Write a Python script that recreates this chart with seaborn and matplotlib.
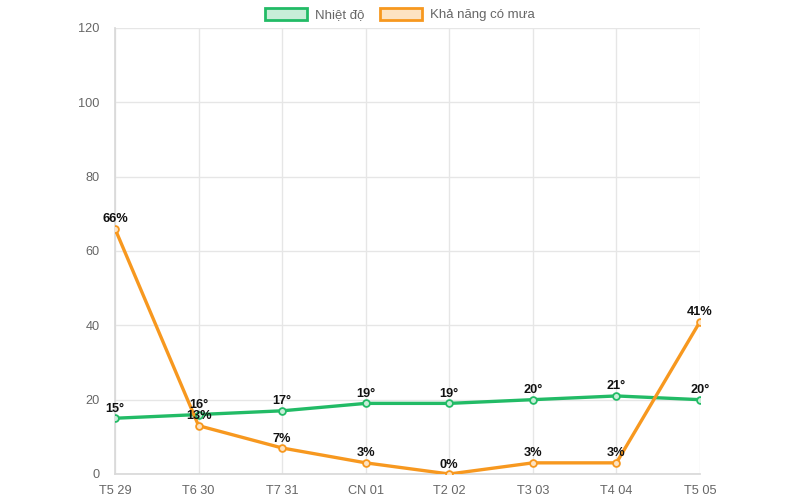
import matplotlib
matplotlib.use("Agg")
import matplotlib.pyplot as plt
import seaborn as sns
import pandas as pd
from matplotlib.patches import Patch

days = ["T5 29", "T6 30", "T7 31", "CN 01", "T2 02", "T3 03", "T4 04", "T5 05"]
temperature = [15, 16, 17, 19, 19, 20, 21, 20]
rain_chance = [66, 13, 7, 3, 0, 3, 3, 41]
series_names = ["Nhiệt độ", "Khả năng có mưa"]
y_ticks = [0, 20, 40, 60, 80, 100, 120]

green = "#22bb66"
orange = "#f7981f"

sns.set_theme(style="white")
plt.rcParams["font.family"] = ["Liberation Sans", "DejaVu Sans"]

df = pd.DataFrame({
    "day": days * 2,
    "x": list(range(len(days))) * 2,
    "value": temperature + rain_chance,
    "series": [series_names[0]] * len(days) + [series_names[1]] * len(days),
})

fig = plt.figure(figsize=(8, 5), dpi=100)
ax = fig.add_axes([115 / 800, 26 / 500, 585 / 800, 446 / 500])

palette = {series_names[0]: green, series_names[1]: orange}
sns.lineplot(data=df, x="x", y="value", hue="series", palette=palette, ax=ax,
             linewidth=2.4, legend=False, zorder=3)
for name, vals, col, fill in [(series_names[0], temperature, green, "#c8eed8"),
                              (series_names[1], rain_chance, orange, "#fde3c2")]:
    ax.scatter(range(len(days)), vals, s=24, facecolor=fill, edgecolor=col,
               linewidth=1.3, zorder=4)

for i, v in enumerate(temperature):
    ax.annotate(f"{v}°", (i, v), xytext=(0, 2.5), textcoords="offset points",
                ha="center", va="bottom", fontsize=9.2, fontweight="bold", color="#111111", zorder=5)
for i, v in enumerate(rain_chance):
    ax.annotate(f"{v}%", (i, v), xytext=(0, 2.5), textcoords="offset points",
                ha="center", va="bottom", fontsize=9.2, fontweight="bold", color="#111111", zorder=5)

ax.set_xlim(0, len(days) - 1)
ax.set_ylim(0, 120)
ax.set_xticks(range(len(days)))
ax.set_xticklabels(days)
ax.set_yticks(y_ticks)
ax.set_xlabel("")
ax.set_ylabel("")
ax.grid(True, color="#e6e6e6", linewidth=1)
ax.set_axisbelow(True)
for s in ["top", "right"]:
    ax.spines[s].set_visible(False)
ax.spines["left"].set_color("#d9d9d9")
ax.spines["bottom"].set_color("#d9d9d9")
ax.tick_params(axis="both", colors="#666666", labelsize=9.2, length=6, color="#e6e6e6", pad=3)
ax.tick_params(axis="y", pad=5)
ax.tick_params(axis="x", pad=2)
for lbl in ax.get_xticklabels() + ax.get_yticklabels():
    lbl.set_color("#666666")

handles = [Patch(facecolor="#c8eed8", edgecolor=green, linewidth=2, label=series_names[0]),
           Patch(facecolor="#fde3c2", edgecolor=orange, linewidth=2, label=series_names[1])]
fig.legend(handles=handles, loc="upper center", bbox_to_anchor=(0.5, 1.0), ncol=2, frameon=False,
           fontsize=9.5, handlelength=3.2, handleheight=1.0, columnspacing=1.2, handletextpad=0.6,
           labelcolor="#666666", borderaxespad=0.2)

fig.savefig("out.png", dpi=100)
